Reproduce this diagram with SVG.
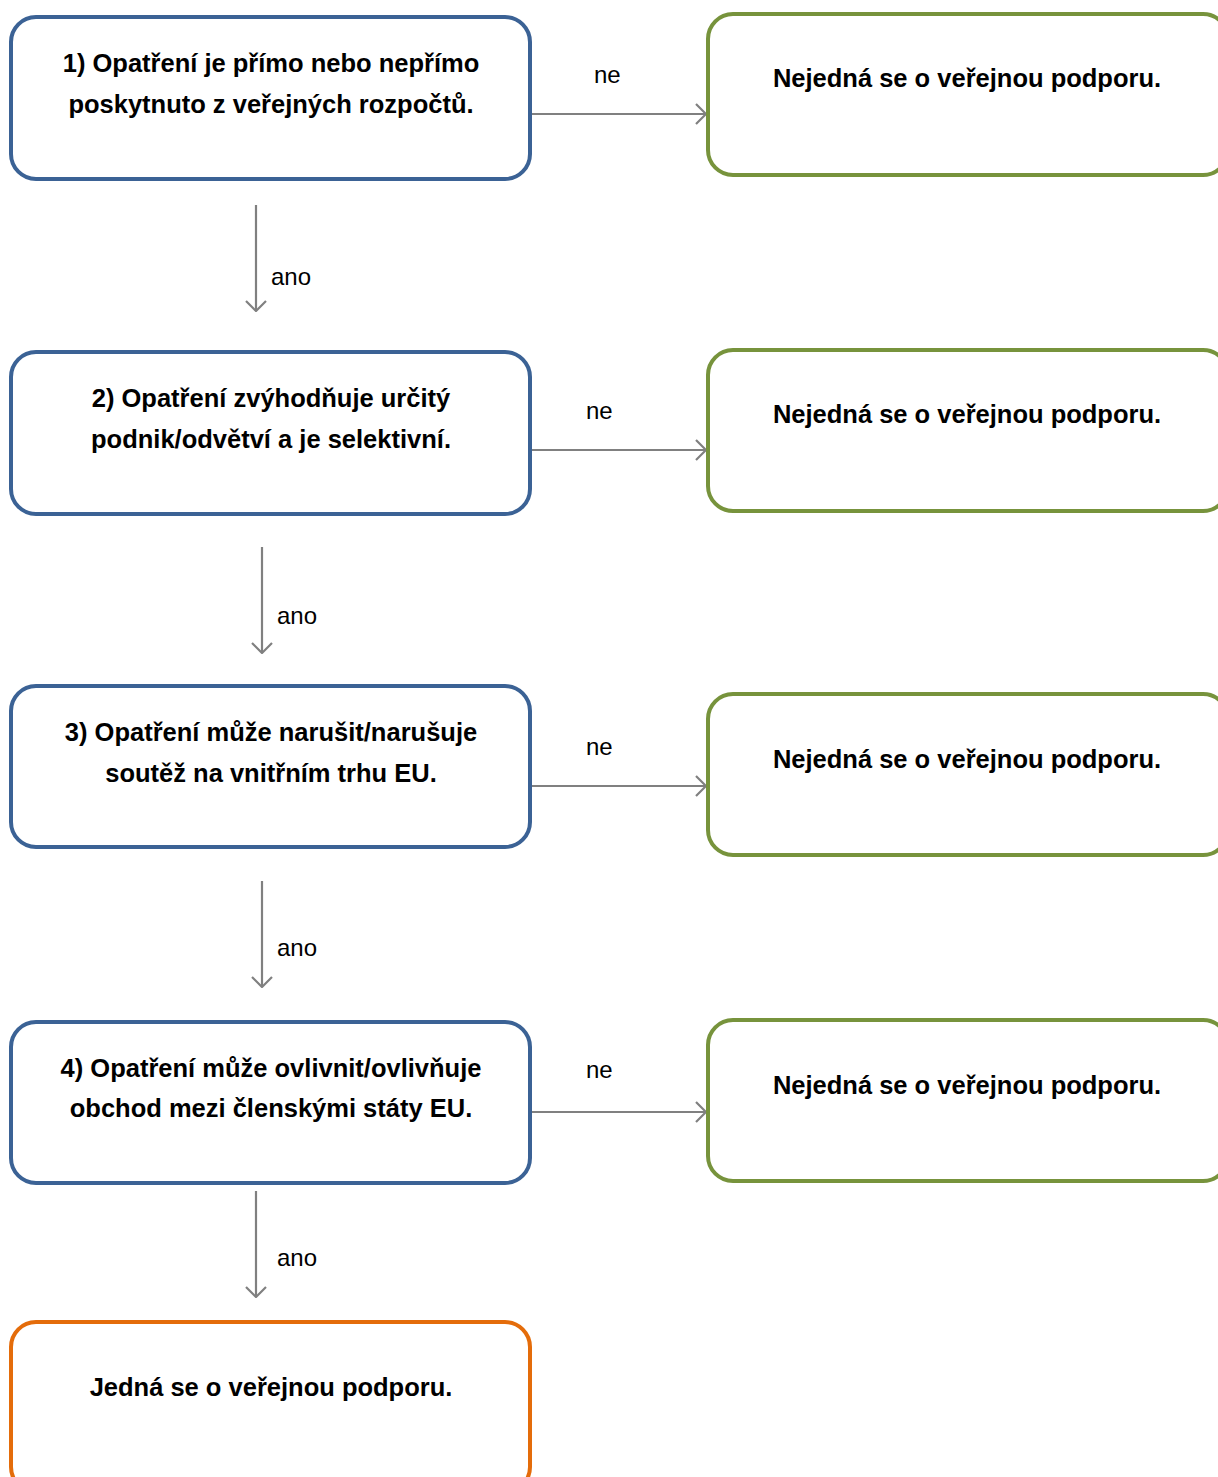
<svg xmlns="http://www.w3.org/2000/svg" width="1218" height="1477" viewBox="0 0 1218 1477">
<style>
.q{fill:#fff;stroke:#3B6295;stroke-width:4}
.n{fill:#fff;stroke:#77933C;stroke-width:4}
.y{fill:#fff;stroke:#E46C0A;stroke-width:4}
.t{font-family:"Liberation Sans",Arial,sans-serif;font-weight:bold;font-size:25.5px;fill:#000;text-anchor:middle}
.l{font-family:"Liberation Sans",Arial,sans-serif;font-size:24px;fill:#000}
.c{stroke:#808080;stroke-width:2.2;fill:none}
</style>
<defs>
<marker id="ah" viewBox="0 0 12 22" refX="11" refY="11" markerWidth="12" markerHeight="22" markerUnits="userSpaceOnUse" orient="auto">
<path d="M1,1 L11,11 L1,21" fill="none" stroke="#808080" stroke-width="2.2"/>
</marker>
</defs>
<rect width="1218" height="1477" fill="#fff"/>
<g id="connectors">
<line class="c" x1="531" y1="114" x2="706" y2="114" marker-end="url(#ah)"/>
<line class="c" x1="531" y1="450" x2="706" y2="450" marker-end="url(#ah)"/>
<line class="c" x1="531" y1="786" x2="706" y2="786" marker-end="url(#ah)"/>
<line class="c" x1="531" y1="1112" x2="706" y2="1112" marker-end="url(#ah)"/>
<line class="c" x1="256" y1="205" x2="256" y2="311" marker-end="url(#ah)"/>
<line class="c" x1="262" y1="547" x2="262" y2="653" marker-end="url(#ah)"/>
<line class="c" x1="262" y1="881" x2="262" y2="987" marker-end="url(#ah)"/>
<line class="c" x1="256" y1="1191" x2="256" y2="1297" marker-end="url(#ah)"/>
<text class="l" x="594" y="83">ne</text>
<text class="l" x="586" y="419">ne</text>
<text class="l" x="586" y="755">ne</text>
<text class="l" x="586" y="1078">ne</text>
<text class="l" x="271" y="285">ano</text>
<text class="l" x="277" y="624">ano</text>
<text class="l" x="277" y="956">ano</text>
<text class="l" x="277" y="1266">ano</text>
</g>
<g id="q1">
<rect class="q" x="11" y="17" width="519" height="162" rx="25"/>
<text class="t" x="271" y="72">1) Opatření je přímo nebo nepřímo</text>
<text class="t" x="271" y="113">poskytnuto z veřejných rozpočtů.</text>
</g>
<g id="q2">
<rect class="q" x="11" y="352" width="519" height="162" rx="25"/>
<text class="t" x="271" y="407">2) Opatření zvýhodňuje určitý</text>
<text class="t" x="271" y="448">podnik/odvětví a je selektivní.</text>
</g>
<g id="q3">
<rect class="q" x="11" y="686" width="519" height="161" rx="25"/>
<text class="t" x="271" y="741">3) Opatření může narušit/narušuje</text>
<text class="t" x="271" y="782">soutěž na vnitřním trhu EU.</text>
</g>
<g id="q4">
<rect class="q" x="11" y="1022" width="519" height="161" rx="25"/>
<text class="t" x="271" y="1077">4) Opatření může ovlivnit/ovlivňuje</text>
<text class="t" x="271" y="1117">obchod mezi členskými státy EU.</text>
</g>
<g id="n1">
<rect class="n" x="708" y="14" width="520" height="161" rx="25"/>
<text class="t" x="967" y="87">Nejedná se o veřejnou podporu.</text>
</g>
<g id="n2">
<rect class="n" x="708" y="350" width="520" height="161" rx="25"/>
<text class="t" x="967" y="423">Nejedná se o veřejnou podporu.</text>
</g>
<g id="n3">
<rect class="n" x="708" y="694" width="520" height="161" rx="25"/>
<text class="t" x="967" y="768">Nejedná se o veřejnou podporu.</text>
</g>
<g id="n4">
<rect class="n" x="708" y="1020" width="520" height="161" rx="25"/>
<text class="t" x="967" y="1094">Nejedná se o veřejnou podporu.</text>
</g>
<g id="yes">
<rect class="y" x="11" y="1322" width="519" height="170" rx="25"/>
<text class="t" x="271" y="1396">Jedná se o veřejnou podporu.</text>
</g>
</svg>
